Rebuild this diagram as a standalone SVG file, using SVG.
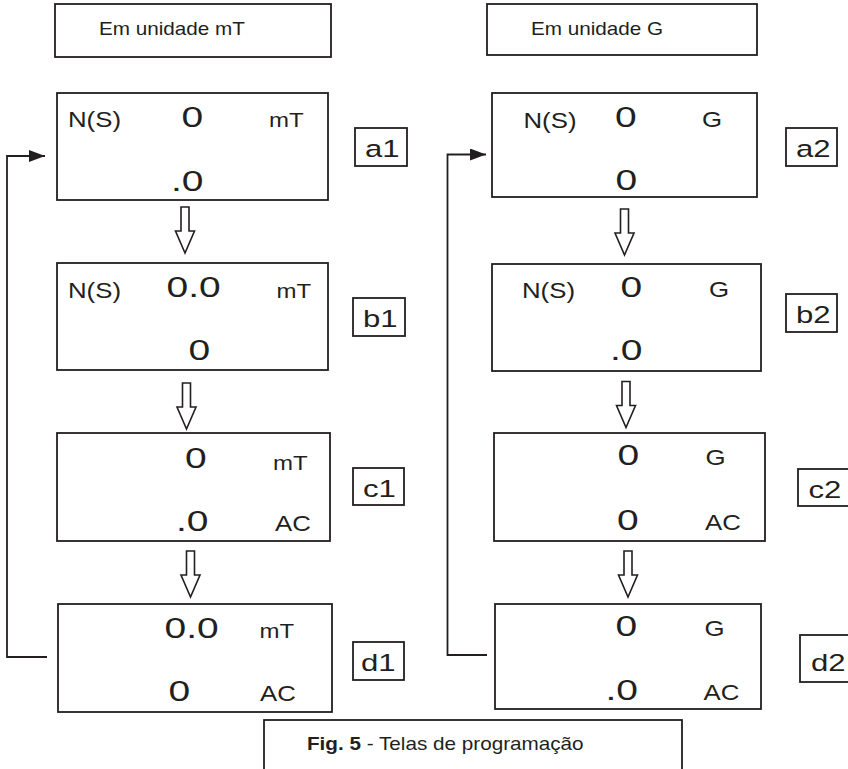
<svg xmlns="http://www.w3.org/2000/svg" width="848" height="769" viewBox="0 0 848 769">
<style>
.bx{fill:#fff;stroke:#231f20;stroke-width:1.8}
.ln{fill:none;stroke:#231f20;stroke-width:1.8}
.t{font-family:"Liberation Sans",Arial,sans-serif;fill:#231f20;transform-box:fill-box;transform-origin:0 0}
.big{font-size:30px;transform:scaleX(1.3)}
.sm{font-size:21.5px;transform:scaleX(1.2)}
.u{font-size:20px;transform:scaleX(1.2)}
.hd{font-size:18px;transform:scaleX(1.15)}
.lb{font-size:24.5px;transform:scaleX(1.27)}
.dn{fill:#fff;stroke:#231f20;stroke-width:1.6}
</style>
<defs>
<path id="down" d="M-4,0 L4,0 L4,24 L9.5,24 L0,46 L-9.5,24 L-4,24 Z"/>
<marker id="ah" viewBox="0 0 16 12" refX="16" refY="6" markerWidth="16" markerHeight="12" markerUnits="userSpaceOnUse" orient="auto">
<path d="M0,0 L16,6 L0,12 Z" fill="#231f20"/>
</marker>
</defs>

<g id="header-mT">
<rect class="bx" x="55" y="4" width="276" height="53"/>
<text class="t hd" x="99" y="35">Em unidade mT</text>
</g>
<g id="header-G">
<rect class="bx" x="487" y="4" width="270" height="51"/>
<text class="t hd" x="531" y="35">Em unidade G</text>
</g>

<g id="connectors">
<polyline class="ln" points="47,657 7,657 7,156 45,156" marker-end="url(#ah)"/>
<polyline class="ln" points="487,655 447.5,655 447.5,154.5 486,154.5" marker-end="url(#ah)"/>
<use href="#down" class="dn" transform="translate(185,207)"/>
<use href="#down" class="dn" transform="translate(186.5,383)"/>
<use href="#down" class="dn" transform="translate(190.5,551)"/>
<use href="#down" class="dn" transform="translate(624.5,209)"/>
<use href="#down" class="dn" transform="translate(626,381.5)"/>
<use href="#down" class="dn" transform="translate(628,551)"/>
</g>

<g id="a1">
<rect class="bx" x="57" y="93" width="271" height="107"/>
<text class="t sm" x="68" y="127">N(S)</text>
<text class="t big" x="181.5" y="127">0</text>
<text class="t u" x="269" y="127">mT</text>
<text class="t big" x="171" y="191.5">.0</text>
</g>
<g id="label-a1">
<rect class="bx" x="355" y="128" width="52" height="38"/>
<text class="t lb" x="365" y="157">a1</text>
</g>

<g id="b1">
<rect class="bx" x="57" y="263" width="271" height="107"/>
<text class="t sm" x="68" y="298">N(S)</text>
<text class="t big" x="166.5" y="297">0.0</text>
<text class="t u" x="276.5" y="298">mT</text>
<text class="t big" x="188.5" y="360">0</text>
</g>
<g id="label-b1">
<rect class="bx" x="353" y="298" width="52" height="38"/>
<text class="t lb" x="363" y="327">b1</text>
</g>

<g id="c1">
<rect class="bx" x="57" y="433" width="273" height="108"/>
<text class="t big" x="185" y="468">0</text>
<text class="t u" x="273" y="470">mT</text>
<text class="t big" x="176" y="531.5">.0</text>
<text class="t sm" x="275" y="531.5">AC</text>
</g>
<g id="label-c1">
<rect class="bx" x="353" y="468" width="51" height="37"/>
<text class="t lb" x="363" y="497">c1</text>
</g>

<g id="d1">
<rect class="bx" x="58" y="604" width="274" height="108"/>
<text class="t big" x="164.5" y="638">0.0</text>
<text class="t u" x="259.5" y="638">mT</text>
<text class="t big" x="168.5" y="701.5">0</text>
<text class="t sm" x="260" y="701.5">AC</text>
</g>
<g id="label-d1">
<rect class="bx" x="353" y="642" width="51" height="38"/>
<text class="t lb" x="361" y="671">d1</text>
</g>

<g id="a2">
<rect class="bx" x="492" y="93" width="265" height="104"/>
<text class="t sm" x="523.5" y="128">N(S)</text>
<text class="t big" x="615" y="127">0</text>
<text class="t sm" x="702" y="127">G</text>
<text class="t big" x="615.5" y="190">0</text>
</g>
<g id="label-a2">
<rect class="bx" x="786" y="128" width="51" height="38"/>
<text class="t lb" x="796" y="157">a2</text>
</g>

<g id="b2">
<rect class="bx" x="492" y="264" width="269" height="107"/>
<text class="t sm" x="522" y="298">N(S)</text>
<text class="t big" x="620.5" y="297">0</text>
<text class="t sm" x="709" y="297">G</text>
<text class="t big" x="610" y="360">.0</text>
</g>
<g id="label-b2">
<rect class="bx" x="786" y="294" width="51" height="38"/>
<text class="t lb" x="796" y="323">b2</text>
</g>

<g id="c2">
<rect class="bx" x="494" y="433" width="271" height="108"/>
<text class="t big" x="617.5" y="465">0</text>
<text class="t sm" x="705.5" y="465">G</text>
<text class="t big" x="617" y="530.5">0</text>
<text class="t sm" x="705" y="530.5">AC</text>
</g>
<g id="label-c2">
<rect class="bx" x="798" y="469" width="56" height="37"/>
<text class="t lb" x="808.5" y="498">c2</text>
</g>

<g id="d2">
<rect class="bx" x="495" y="604" width="266" height="105"/>
<text class="t big" x="615.5" y="636.5">0</text>
<text class="t sm" x="704.5" y="636.5">G</text>
<text class="t big" x="605.5" y="700.5">.0</text>
<text class="t sm" x="703.5" y="700.5">AC</text>
</g>
<g id="label-d2">
<rect class="bx" x="800" y="635" width="56" height="47"/>
<text class="t lb" x="811" y="671.5">d2</text>
</g>

<g id="caption">
<rect class="bx" x="264" y="720" width="418" height="60"/>
<text class="t hd" x="307" y="750"><tspan font-weight="bold">Fig. 5</tspan> - Telas de programação</text>
</g>
</svg>
